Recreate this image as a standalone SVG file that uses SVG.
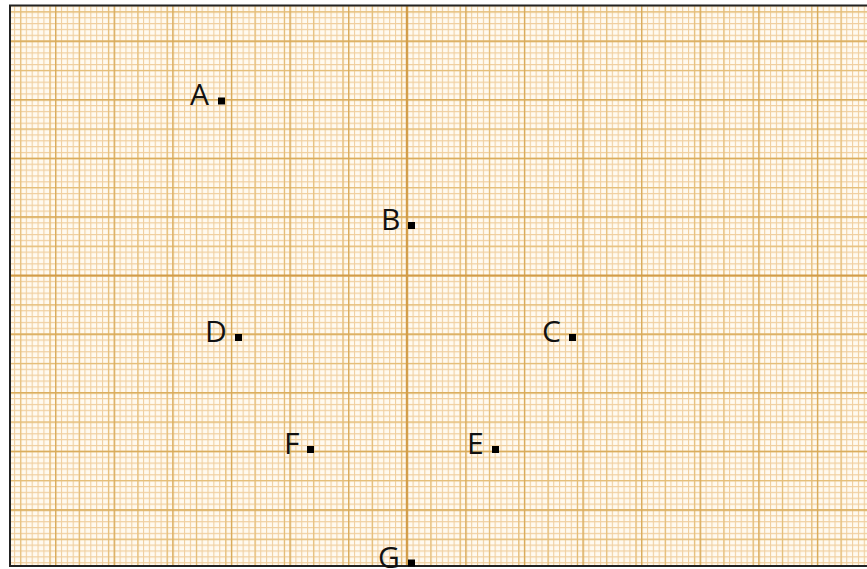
<svg xmlns="http://www.w3.org/2000/svg" width="867" height="569" viewBox="0 0 867 569">
<style>
.lbl{font-family:"Open Sans","Liberation Sans",sans-serif;font-size:30px;fill:#111}
.pt{fill:#000}
</style>
<defs>
<pattern id="fine" patternUnits="userSpaceOnUse" x="2.36" y="5.44" width="5.86" height="5.86">
<path d="M0.5 0V5.86M0 0.5H5.86" stroke="#f0cf9f" stroke-width="1.2" fill="none"/>
</pattern>
<pattern id="mid" patternUnits="userSpaceOnUse" x="20.3" y="11.3" width="29.3" height="29.3">
<path d="M0.5 0V29.3M0 0.5H29.3" stroke="#e4bd76" stroke-width="1.2" fill="none"/>
</pattern>
<pattern id="major" patternUnits="userSpaceOnUse" x="55.1" y="40.6" width="58.6" height="58.6">
<path d="M0.6 0V58.6M0 0.6H58.6" stroke="#d8a957" stroke-width="1.5" fill="none"/>
</pattern>
<clipPath id="paper"><rect x="10" y="5" width="857" height="561"/></clipPath>
</defs>
<rect width="867" height="569" fill="#ffffff"/>
<g id="grid" clip-path="url(#paper)">
<rect x="10" y="5" width="857" height="561" fill="#fffaf0"/>
<rect x="10" y="5" width="857" height="561" fill="url(#fine)"/>
<rect x="10" y="5" width="857" height="561" fill="url(#mid)"/>
<rect x="10" y="5" width="857" height="561" fill="url(#major)"/>
<path d="M406.8 5V566M10 275.4H867" stroke="#d29c48" stroke-width="2" fill="none"/>
</g>
<path id="border" d="M870 5.5H10V566H870" stroke="#222" stroke-width="2" fill="none"/>
<g id="connectors"></g>
<g id="A"><text class="lbl" x="190" y="105">A</text><rect class="pt" x="218" y="97.5" width="7" height="7"/></g>
<g id="B"><text class="lbl" x="381" y="230">B</text><rect class="pt" x="408" y="222" width="7" height="7"/></g>
<g id="C"><text class="lbl" x="542" y="342">C</text><rect class="pt" x="569" y="334" width="7" height="7"/></g>
<g id="D"><text class="lbl" x="205" y="342">D</text><rect class="pt" x="235" y="334" width="7" height="7"/></g>
<g id="E"><text class="lbl" x="467" y="454">E</text><rect class="pt" x="492" y="446" width="7" height="7"/></g>
<g id="F"><text class="lbl" x="284" y="454">F</text><rect class="pt" x="307" y="446" width="7" height="7"/></g>
<g id="G"><text class="lbl" x="378" y="568">G</text><rect class="pt" x="408" y="559.5" width="7" height="7"/></g>
</svg>
